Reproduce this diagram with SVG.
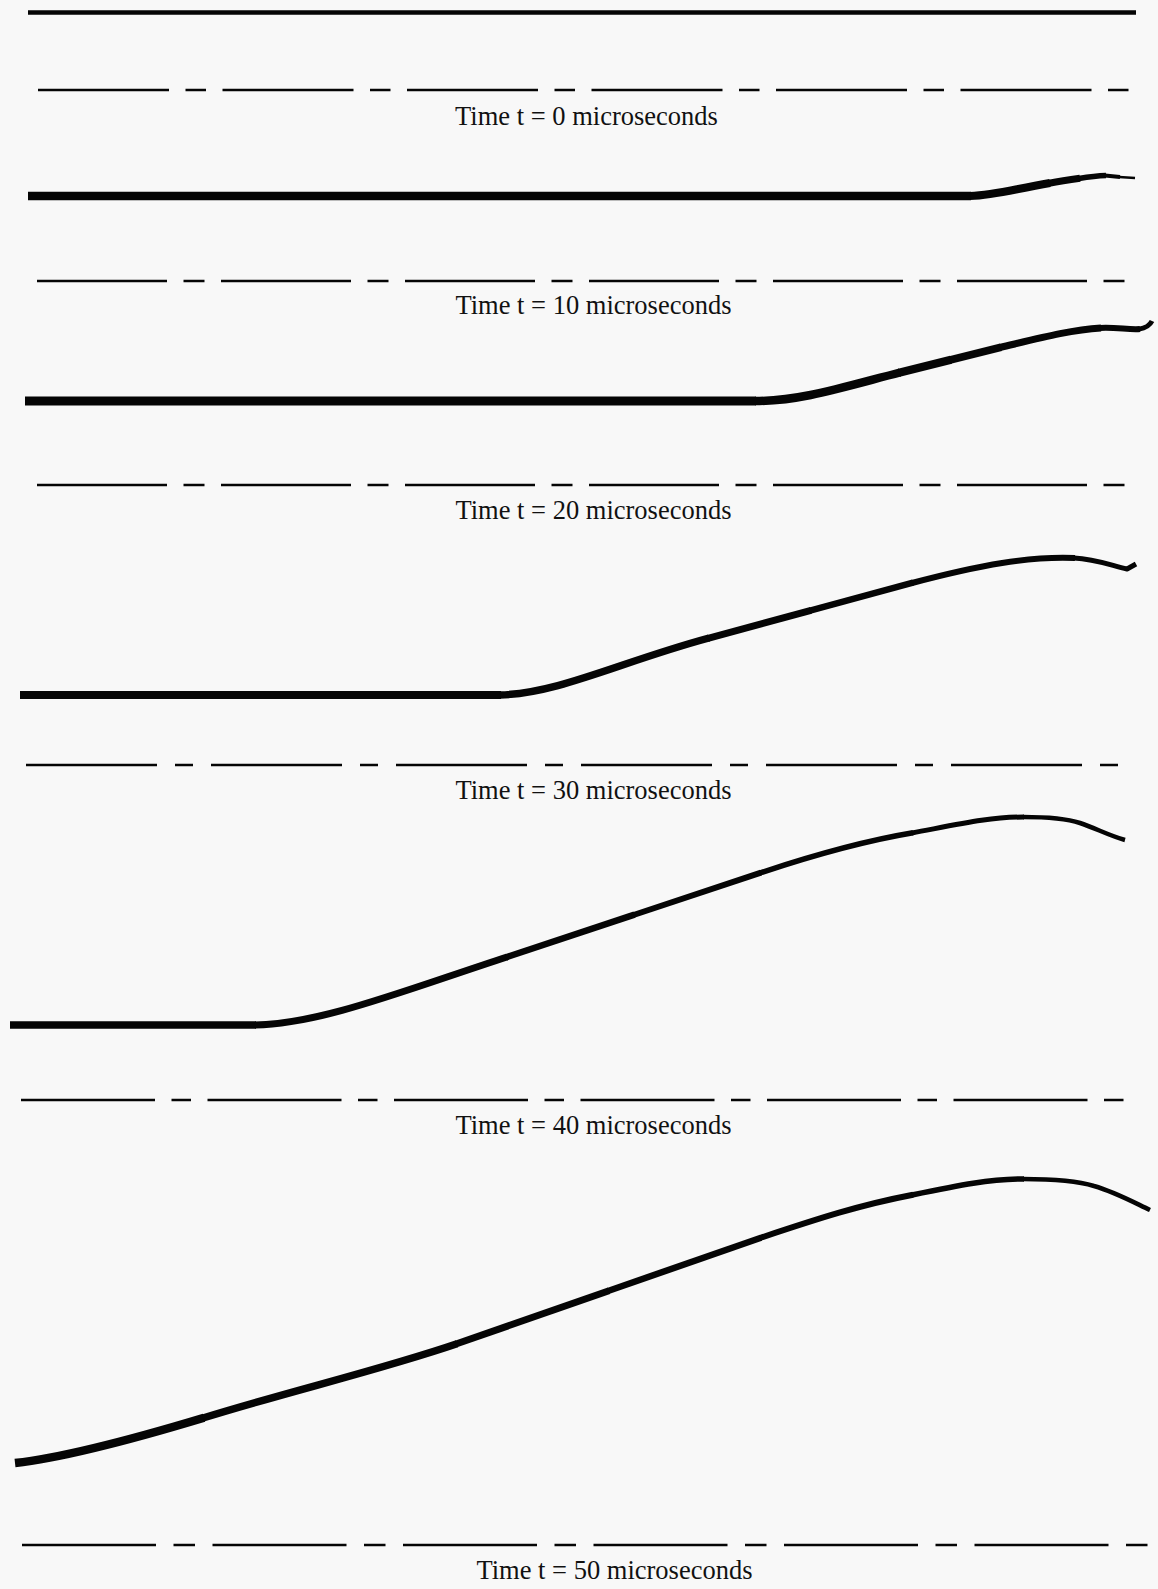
<svg xmlns="http://www.w3.org/2000/svg" width="1158" height="1589" viewBox="0 0 1158 1589">
<style>
.bg{fill:#f8f8f8}
.ref{stroke:#050505;stroke-width:2.6;fill:none}
.lbl{font-family:"Liberation Serif","Times New Roman",serif;font-size:26.5px;fill:#111;text-anchor:middle}
.wave{stroke:#050505;fill:none;stroke-linejoin:round;stroke-linecap:butt}
</style>
<rect class="bg" x="0" y="0" width="1158" height="1589"/>
<g id="top-surface">
<line x1="28" y1="12.5" x2="1136" y2="12.5" stroke="#050505" stroke-width="4.5"/>
</g>
<g id="panel-0">
<line class="ref" x1="38" y1="90" x2="1129" y2="90" stroke-dasharray="131 16.5 20.5 16.5"/>
<text class="lbl" x="586.5" y="125">Time t = 0 microseconds</text>
</g>
<g id="panel-10">
<path class="wave" stroke-width="8.5" d="M28,196 L971,196"/>
<path class="wave" stroke-width="8" d="M970,196 C995,195 1010,190 1050,183"/>
<path class="wave" stroke-width="7" d="M1049,183.2 C1062,181 1072,179.5 1080,178.3"/>
<path class="wave" stroke-width="5.5" d="M1079,178.5 C1088,177 1097,175.8 1106,175.5"/>
<path class="wave" stroke-width="4" d="M1105,175.5 L1120,177"/>
<path class="wave" stroke-width="2.5" d="M1119,176.9 L1135,178"/>
<line class="ref" x1="37" y1="281" x2="1125" y2="281" stroke-dasharray="130 16.5 21 16.5"/>
<text class="lbl" x="593.5" y="314">Time t = 10 microseconds</text>
</g>
<g id="panel-20">
<path class="wave" stroke-width="9" d="M25,401 L756,401"/>
<path class="wave" stroke-width="8.5" d="M755,401 C800,401 840,388 900,372.5"/>
<path class="wave" stroke-width="8" d="M899,372.75 L951,359.75"/>
<path class="wave" stroke-width="7.5" d="M950,360 L1001,347.25"/>
<path class="wave" stroke-width="7" d="M1000,347.5 C1040,338 1070,330 1101,328"/>
<path class="wave" stroke-width="6" d="M1100,328 C1115,327 1130,330 1140,329"/>
<path class="wave" stroke-width="5" d="M1139,329.1 C1146,328 1150,325 1152,321"/>
<line class="ref" x1="37" y1="485" x2="1125" y2="485" stroke-dasharray="130 16.5 21 16.5"/>
<text class="lbl" x="593.5" y="519">Time t = 20 microseconds</text>
</g>
<g id="panel-30">
<path class="wave" stroke-width="8" d="M20,695 L501,695"/>
<path class="wave" stroke-width="7.5" d="M500,695 C560,693 620,662 709,638"/>
<path class="wave" stroke-width="7" d="M708,638.3 L811,610.3"/>
<path class="wave" stroke-width="6.5" d="M810,610.6 L913,582.7"/>
<path class="wave" stroke-width="6" d="M912,583 C980,565 1030,556 1075,558"/>
<path class="wave" stroke-width="5" d="M1074,558 C1095,559 1110,565 1127,569 L1136,564"/>
<line class="ref" x1="26" y1="765" x2="1120" y2="765" stroke-dasharray="131 18 18 18"/>
<text class="lbl" x="593.5" y="799">Time t = 30 microseconds</text>
</g>
<g id="panel-40">
<path class="wave" stroke-width="7.5" d="M10,1025 L256,1025"/>
<path class="wave" stroke-width="7" d="M255,1025 C320,1024 400,992 507,957"/>
<path class="wave" stroke-width="6.5" d="M506,957.3 L634.5,914.7"/>
<path class="wave" stroke-width="6" d="M633.5,915 L761,872.7"/>
<path class="wave" stroke-width="5.5" d="M760,873 C820,853 870,840 913,832.8"/>
<path class="wave" stroke-width="5" d="M912,833 C960,824 990,817 1024,817"/>
<path class="wave" stroke-width="4.5" d="M1023,817 C1045,817 1065,818 1080,823 C1095,828 1110,836 1125,840"/>
<line class="ref" x1="21" y1="1100" x2="1126" y2="1100" stroke-dasharray="134 16.5 19.5 16.5"/>
<text class="lbl" x="593.5" y="1134">Time t = 40 microseconds</text>
</g>
<g id="panel-50">
<path class="wave" stroke-width="8.5" d="M15,1463 C60,1458 130,1440 204,1417.7"/>
<path class="wave" stroke-width="7.5" d="M203,1418 C290,1391 380,1370 457,1343.7"/>
<path class="wave" stroke-width="7" d="M456,1344 L609,1290.7"/>
<path class="wave" stroke-width="6.5" d="M608,1291 L761,1237.7"/>
<path class="wave" stroke-width="6" d="M760,1238 C820,1218 860,1205 913,1194.8"/>
<path class="wave" stroke-width="5.5" d="M912,1195 C960,1185 990,1179 1024,1179"/>
<path class="wave" stroke-width="4.5" d="M1023,1179 C1050,1179 1075,1180 1094,1186 C1115,1192 1135,1203 1150,1210"/>
<line class="ref" x1="22" y1="1545" x2="1148" y2="1545" stroke-dasharray="134 17.5 21.5 17.5"/>
<text class="lbl" x="614.5" y="1579">Time t = 50 microseconds</text>
</g>
</svg>
